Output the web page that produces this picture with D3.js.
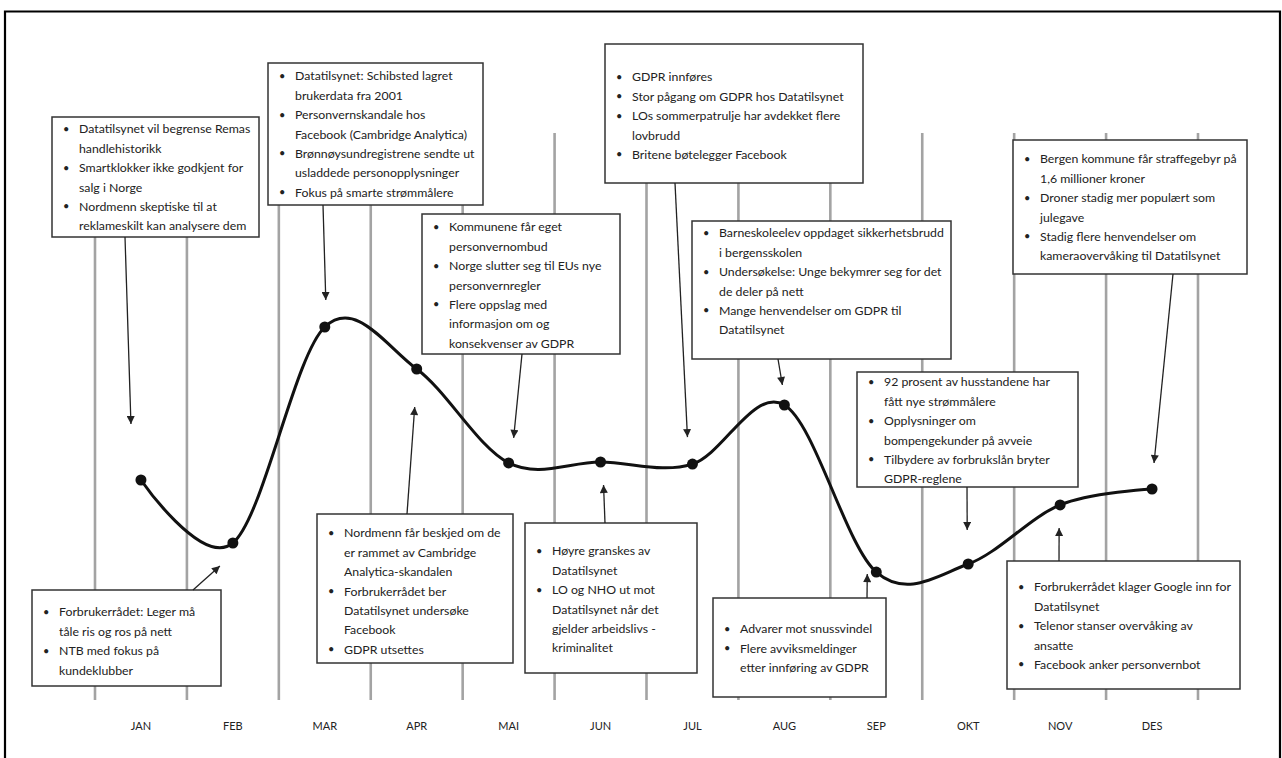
<!DOCTYPE html>
<html>
<head>
<meta charset="utf-8">
<script src="https://cdn.jsdelivr.net/npm/d3@7"></script>
<style>
  html, body { margin: 0; padding: 0; background: #fff; }
  svg { display: block; }
  text { font-family: Lato, "Open Sans", sans-serif; fill: #222; }
</style>
</head>
<body>
<svg id="chart" width="1282" height="758"></svg>
<script>
// ---- data ----
const months = ["JAN","FEB","MAR","APR","MAI","JUN","JUL","AUG","SEP","OKT","NOV","DES"];
const values = [40, 19, 91, 77, 45.7, 46, 45.3, 65, 9.3, 12, 31.7, 37];

// annotation texts (each bullet = wrapped lines)
const notesJan = [["Datatilsynet vil begrense Remas","handlehistorikk"],["Smartklokker ikke godkjent for","salg i Norge"],["Nordmenn skeptiske til at","reklameskilt kan analysere dem"]];
const notesFeb = [["Forbrukerrådet: Leger må","tåle ris og ros på nett"],["NTB med fokus på","kundeklubber"]];
const notesMar = [["Datatilsynet: Schibsted lagret","brukerdata fra 2001"],["Personvernskandale hos","Facebook (Cambridge  Analytica)"],["Brønnøysundregistrene sendte ut","usladdede personopplysninger"],["Fokus på smarte strømmålere"]];
const notesApr = [["Nordmenn får beskjed om de","er rammet av Cambridge","Analytica-skandalen"],["Forbrukerrådet ber","Datatilsynet undersøke","Facebook"],["GDPR utsettes"]];
const notesMai = [["Kommunene får eget","personvernombud"],["Norge slutter seg til EUs nye","personvernregler"],["Flere oppslag med","informasjon om og","konsekvenser av GDPR"]];
const notesJun = [["Høyre granskes av","Datatilsynet"],["LO og NHO ut mot","Datatilsynet når det","gjelder arbeidslivs -","kriminalitet"]];
const notesJul = [["GDPR innføres"],["Stor pågang om GDPR hos Datatilsynet"],["LOs sommerpatrulje har avdekket flere","lovbrudd"],["Britene bøtelegger Facebook"]];
const notesAug = [["Barneskoleelev oppdaget sikkerhetsbrudd","i bergensskolen"],["Undersøkelse: Unge bekymrer seg for det","de deler på nett"],["Mange henvendelser om GDPR til","Datatilsynet"]];
const notesSep = [["Advarer mot snussvindel"],["Flere avviksmeldinger","etter innføring av GDPR"]];
const notesOkt = [["92 prosent av husstandene har","fått nye strømmålere"],["Opplysninger om","bompengekunder på avveie"],["Tilbydere av forbrukslån bryter","GDPR-reglene"]];
const notesNov = [["Forbrukerrådet klager Google inn for","Datatilsynet"],["Telenor stanser overvåking av","ansatte"],["Facebook anker personvernbot"]];
const notesDes = [["Bergen kommune får straffegebyr på","1,6 millioner kroner"],["Droner stadig mer populært som","julegave"],["Stadig flere henvendelser om","kameraovervåking til Datatilsynet"]];

// ---- layout (positions of annotation boxes & arrows) ----
const layout = [
  {m:"JAN", notes:notesJan, x:52,  y:117, w:207, h:120, ty:12, sx:125,  sy:237, dx:-10, dy:-56},
  {m:"FEB", notes:notesFeb, x:32,  y:590, w:189, h:96,  ty:22, sx:193,  sy:590, dx:-13, dy:23},
  {m:"MAR", notes:notesMar, x:268, y:63,  w:215, h:142, ty:13, sx:323,  sy:205, dx:1,   dy:-27},
  {m:"APR", notes:notesApr, x:317, y:514, w:196, h:149, ty:19, sx:407,  sy:514, dx:-2,  dy:38},
  {m:"MAI", notes:notesMai, x:422, y:214, w:198, h:140, ty:13, sx:522,  sy:354, dx:5,   dy:-25},
  {m:"JUN", notes:notesJun, x:525, y:523, w:172, h:150, ty:28, sx:605,  sy:523, dx:3,   dy:23},
  {m:"JUL", notes:notesJul, x:605, y:44,  w:258, h:139, ty:33, sx:675,  sy:183, dx:-5,  dy:-27},
  {m:"AUG", notes:notesAug, x:692, y:221, w:259, h:138, ty:12, sx:778,  sy:359, dx:-2,  dy:-20},
  {m:"SEP", notes:notesSep, x:713, y:598, w:173, h:99,  ty:31, sx:867,  sy:598, dx:-9,  dy:2},
  {m:"OKT", notes:notesOkt, x:857, y:372, w:221, h:115, ty:10, sx:967,  sy:487, dx:-1,  dy:-34},
  {m:"NOV", notes:notesNov, x:1007,y:561, w:233, h:128, ty:26, sx:1059, sy:561, dx:-1,  dy:23},
  {m:"DES", notes:notesDes, x:1013,y:140, w:234, h:134, ty:19, sx:1173, sy:274, dx:2,   dy:-26}
];

const svg = d3.select("#chart");

// scales
const x = d3.scaleBand().domain(months).range([95, 1198]).paddingInner(0).paddingOuter(0);
const y = d3.scaleLinear().domain([0, 100]).range([600, 300]);
const cx = m => x(m) + x.bandwidth() / 2;

// frame
svg.append("path")
  .attr("d", "M5,770 L5,11.5 L1280,11.5 L1280,770")
  .attr("fill", "none").attr("stroke", "#000").attr("stroke-width", 2.2);

// vertical grid lines at band boundaries
const bounds = months.map(m => x(m)).concat([x(months[months.length - 1]) + x.bandwidth()]);
svg.append("g").selectAll("line").data(bounds).join("line")
  .attr("x1", d => d).attr("x2", d => d)
  .attr("y1", 133).attr("y2", 700)
  .attr("stroke", "#a3a3a3").attr("stroke-width", 2.6);

// month labels (axis)
const axis = d3.axisBottom(x).tickSize(0).tickPadding(0);
const gAxis = svg.append("g").attr("transform", "translate(0,722)").call(axis);
gAxis.select(".domain").remove();
gAxis.selectAll("text").attr("font-family", "Lato, sans-serif").attr("font-size", 11).attr("fill", "#222");

// curve
const data = months.map((m, i) => ({m, v: values[i]}));
const line = d3.line().x(d => cx(d.m)).y(d => y(d.v)).curve(d3.curveCardinal);
svg.append("path").datum(data).attr("d", line)
  .attr("fill", "none").attr("stroke", "#111").attr("stroke-width", 3);
svg.append("g").selectAll("circle").data(data).join("circle")
  .attr("cx", d => cx(d.m)).attr("cy", d => y(d.v)).attr("r", 5.5).attr("fill", "#111");

// arrow marker
svg.append("defs").append("marker")
  .attr("id", "ah").attr("viewBox", "0 0 10 10").attr("refX", 10).attr("refY", 5)
  .attr("markerWidth", 9).attr("markerHeight", 8).attr("markerUnits", "userSpaceOnUse")
  .attr("orient", "auto")
  .append("path").attr("d", "M0,0 L10,5 L0,10 z").attr("fill", "#222");

// annotation boxes
const vByM = new Map(data.map(d => [d.m, d.v]));
const lh = 19.4;
layout.forEach(a => {
  const g = svg.append("g");
  g.append("rect").attr("x", a.x).attr("y", a.y).attr("width", a.w).attr("height", a.h)
    .attr("fill", "#fff").attr("stroke", "#333").attr("stroke-width", 1.5);
  let row = 0;
  a.notes.forEach(bullet => {
    bullet.forEach((ln, j) => {
      const yy = a.y + a.ty + row * lh;
      if (j === 0) {
        g.append("text").attr("x", a.x + 11).attr("y", yy).attr("dy", "0.35em")
          .attr("font-size", 11).text("•");
      }
      g.append("text").attr("x", a.x + 27).attr("y", yy).attr("dy", "0.35em")
        .attr("font-size", 12.3).text(ln);
      row++;
    });
  });
  // arrow
  const tx = cx(a.m) + a.dx, ty = y(vByM.get(a.m)) + a.dy;
  svg.append("line").attr("x1", a.sx).attr("y1", a.sy).attr("x2", tx).attr("y2", ty)
    .attr("stroke", "#222").attr("stroke-width", 1.3).attr("marker-end", "url(#ah)");
});
</script>
</body>
</html>
